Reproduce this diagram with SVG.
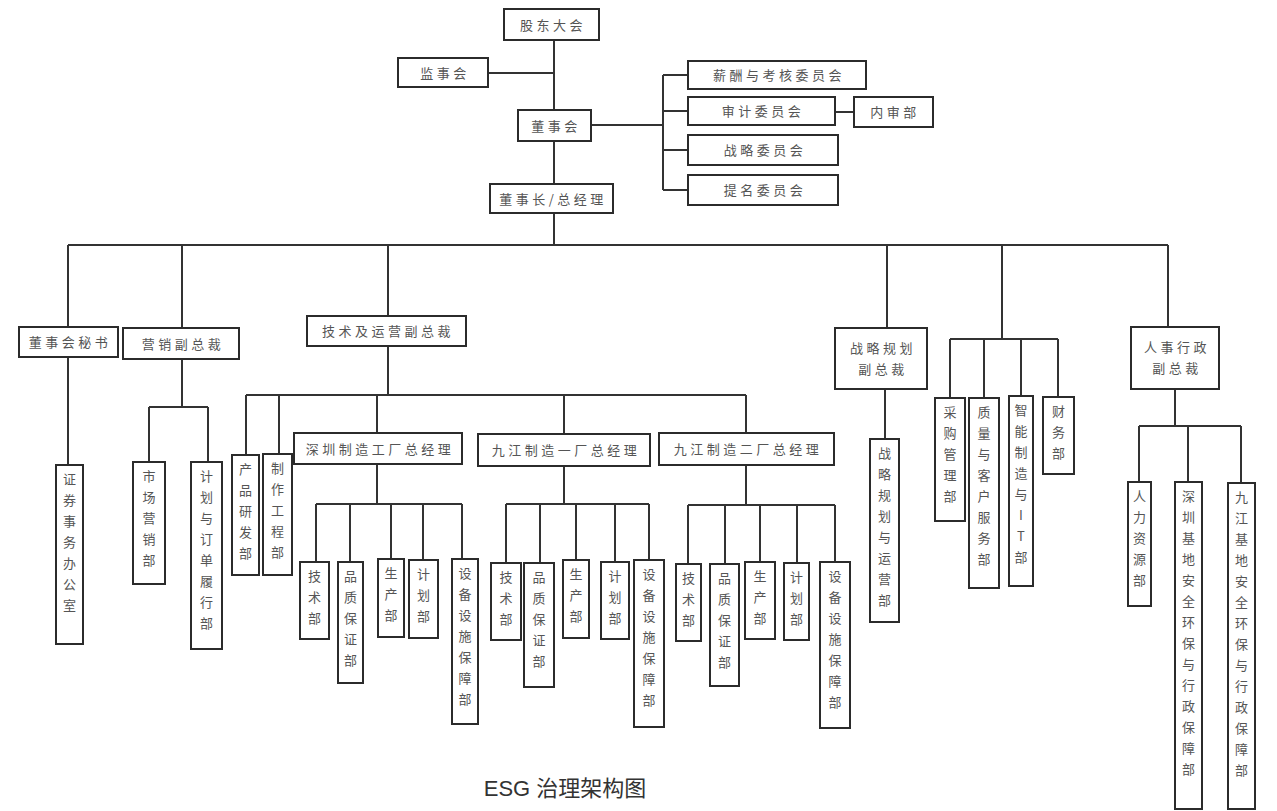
<svg xmlns="http://www.w3.org/2000/svg" width="1277" height="811" viewBox="0 0 1277 811">
<style>
.box{fill:#fff;stroke:#2b2b2b;stroke-width:2}
.t{font-family:"Noto Sans CJK SC",sans-serif;font-size:13px;fill:#555;text-anchor:middle;letter-spacing:3.5px}
.v{font-family:"Noto Sans CJK SC",sans-serif;font-size:13px;fill:#555;text-anchor:middle}
.ln{stroke:#333;stroke-width:2;fill:none}
.cap{font-family:"Liberation Sans","Noto Sans CJK SC",sans-serif;font-size:22px;fill:#333;text-anchor:middle}
</style>
<rect width="1277" height="811" fill="#fff"/>
<g id="connectors" class="ln">
<path d="M554 41V110M554 141V184M554 213V245M488 73H554"/>
<path d="M591 125H663M663 75V190M663 75H688M663 111H688M663 150H688M663 190H688M835 112H854"/>
<path d="M68 245H1168M68 245V327M182 245V328M388 245V316M887 245V328M1002 245V339M1168 245V327"/>
<path d="M68 357V465"/>
<path d="M182 359V407M149 407H208M149 407V462M208 407V462"/>
<path d="M388 346V395M246 395H746M246 395V455M279 395V454M377 395V433M564 395V434M746 395V433"/>
<path d="M377 464V504M316 504H462M316 504V562M350 504V562M391 504V559M423 504V560M462 504V559"/>
<path d="M564 466V504M506 504H649M506 504V563M540 504V563M576 504V560M615 504V562M649 504V560"/>
<path d="M746 465V505M688 505H835M688 505V564M725 505V564M760 505V562M797 505V563M835 505V562"/>
<path d="M885 389V439"/>
<path d="M950 339H1058M950 339V398M984 339V398M1021 339V396M1058 339V397"/>
<path d="M1175 389V426M1139 426H1241M1139 426V482M1188 426V482M1241 426V483"/>
</g>
<g id="n-gudong"><rect class="box" x="504" y="9" width="95" height="31"/><text class="t" x="553" y="29.5">股东大会</text></g>
<g id="n-jianshi"><rect class="box" x="398" y="58" width="90" height="29"/><text class="t" x="445" y="77.5">监事会</text></g>
<g id="n-dongshihui"><rect class="box" x="518" y="110" width="73" height="31"/><text class="t" x="556" y="130.5">董事会</text></g>
<g id="n-dsz"><rect class="box" x="490" y="184" width="123" height="29"/><text class="t" x="553" y="203.5">董事长/总经理</text></g>
<g id="n-xc"><rect class="box" x="688" y="61" width="178" height="28"/><text class="t" x="779" y="80">薪酬与考核委员会</text></g>
<g id="n-sj"><rect class="box" x="688" y="97" width="147" height="28"/><text class="t" x="763" y="116">审计委员会</text></g>
<g id="n-nsb"><rect class="box" x="854" y="97" width="79" height="30"/><text class="t" x="895" y="117">内审部</text></g>
<g id="n-zl"><rect class="box" x="688" y="135" width="150" height="30"/><text class="t" x="765" y="155">战略委员会</text></g>
<g id="n-tm"><rect class="box" x="688" y="175" width="150" height="30"/><text class="t" x="765" y="195">提名委员会</text></g>
<g id="n-mishu"><rect class="box" x="19" y="327" width="99" height="30"/><text class="t" x="70" y="347">董事会秘书</text></g>
<g id="n-yx"><rect class="box" x="123" y="328" width="116" height="31"/><text class="t" x="183" y="348.5">营销副总裁</text></g>
<g id="n-js"><rect class="box" x="307" y="316" width="159" height="30"/><text class="t" x="388" y="336">技术及运营副总裁</text></g>
<g id="n-zlgh"><rect class="box" x="835" y="328" width="92" height="61"/><text class="t" x="883" y="353">战略规划</text><text class="t" x="883" y="374">副总裁</text></g>
<g id="n-rs"><rect class="box" x="1131" y="327" width="88" height="62"/><text class="t" x="1177" y="352">人事行政</text><text class="t" x="1177" y="373">副总裁</text></g>
<g id="n-sz"><rect class="box" x="294" y="433" width="168" height="31"/><text class="t" x="380" y="453.5">深圳制造工厂总经理</text></g>
<g id="n-jj1"><rect class="box" x="478" y="434" width="172" height="32"/><text class="t" x="566" y="455">九江制造一厂总经理</text></g>
<g id="n-jj2"><rect class="box" x="659" y="433" width="175" height="32"/><text class="t" x="748" y="454">九江制造二厂总经理</text></g>
<g id="n-zq"><rect class="box" x="56" y="465" width="27" height="179"/><text class="v" x="69.5" y="484">证<tspan x="69.5" dy="21">券</tspan><tspan x="69.5" dy="21">事</tspan><tspan x="69.5" dy="21">务</tspan><tspan x="69.5" dy="21">办</tspan><tspan x="69.5" dy="21">公</tspan><tspan x="69.5" dy="21">室</tspan></text></g>
<g id="n-scyx"><rect class="box" x="133" y="462" width="32" height="122"/><text class="v" x="149" y="481">市<tspan x="149" dy="21">场</tspan><tspan x="149" dy="21">营</tspan><tspan x="149" dy="21">销</tspan><tspan x="149" dy="21">部</tspan></text></g>
<g id="n-jhdd"><rect class="box" x="191" y="462" width="31" height="187"/><text class="v" x="206.5" y="481">计<tspan x="206.5" dy="21">划</tspan><tspan x="206.5" dy="21">与</tspan><tspan x="206.5" dy="21">订</tspan><tspan x="206.5" dy="21">单</tspan><tspan x="206.5" dy="21">履</tspan><tspan x="206.5" dy="21">行</tspan><tspan x="206.5" dy="21">部</tspan></text></g>
<g id="n-cpyf"><rect class="box" x="232" y="455" width="27" height="120"/><text class="v" x="245.5" y="474">产<tspan x="245.5" dy="21">品</tspan><tspan x="245.5" dy="21">研</tspan><tspan x="245.5" dy="21">发</tspan><tspan x="245.5" dy="21">部</tspan></text></g>
<g id="n-zzgc"><rect class="box" x="263" y="454" width="29" height="121"/><text class="v" x="277.5" y="473">制<tspan x="277.5" dy="21">作</tspan><tspan x="277.5" dy="21">工</tspan><tspan x="277.5" dy="21">程</tspan><tspan x="277.5" dy="21">部</tspan></text></g>
<g id="n-sz-js"><rect class="box" x="300" y="562" width="29" height="77"/><text class="v" x="314.5" y="581">技<tspan x="314.5" dy="21">术</tspan><tspan x="314.5" dy="21">部</tspan></text></g>
<g id="n-sz-pz"><rect class="box" x="338" y="562" width="25" height="121"/><text class="v" x="350.5" y="581">品<tspan x="350.5" dy="21">质</tspan><tspan x="350.5" dy="21">保</tspan><tspan x="350.5" dy="21">证</tspan><tspan x="350.5" dy="21">部</tspan></text></g>
<g id="n-sz-sc"><rect class="box" x="378" y="559" width="26" height="78"/><text class="v" x="391" y="578">生<tspan x="391" dy="21">产</tspan><tspan x="391" dy="21">部</tspan></text></g>
<g id="n-sz-jh"><rect class="box" x="409" y="560" width="29" height="78"/><text class="v" x="423.5" y="579">计<tspan x="423.5" dy="21">划</tspan><tspan x="423.5" dy="21">部</tspan></text></g>
<g id="n-sz-sb"><rect class="box" x="452" y="559" width="26" height="165"/><text class="v" x="465" y="578">设<tspan x="465" dy="21">备</tspan><tspan x="465" dy="21">设</tspan><tspan x="465" dy="21">施</tspan><tspan x="465" dy="21">保</tspan><tspan x="465" dy="21">障</tspan><tspan x="465" dy="21">部</tspan></text></g>
<g id="n-jj1-js"><rect class="box" x="491" y="563" width="30" height="77"/><text class="v" x="506" y="582">技<tspan x="506" dy="21">术</tspan><tspan x="506" dy="21">部</tspan></text></g>
<g id="n-jj1-pz"><rect class="box" x="524" y="563" width="30" height="124"/><text class="v" x="539" y="582">品<tspan x="539" dy="21">质</tspan><tspan x="539" dy="21">保</tspan><tspan x="539" dy="21">证</tspan><tspan x="539" dy="21">部</tspan></text></g>
<g id="n-jj1-sc"><rect class="box" x="563" y="560" width="26" height="78"/><text class="v" x="576" y="579">生<tspan x="576" dy="21">产</tspan><tspan x="576" dy="21">部</tspan></text></g>
<g id="n-jj1-jh"><rect class="box" x="601" y="562" width="28" height="77"/><text class="v" x="615" y="581">计<tspan x="615" dy="21">划</tspan><tspan x="615" dy="21">部</tspan></text></g>
<g id="n-jj1-sb"><rect class="box" x="634" y="560" width="30" height="167"/><text class="v" x="649" y="579">设<tspan x="649" dy="21">备</tspan><tspan x="649" dy="21">设</tspan><tspan x="649" dy="21">施</tspan><tspan x="649" dy="21">保</tspan><tspan x="649" dy="21">障</tspan><tspan x="649" dy="21">部</tspan></text></g>
<g id="n-jj2-js"><rect class="box" x="676" y="564" width="25" height="77"/><text class="v" x="688.5" y="583">技<tspan x="688.5" dy="21">术</tspan><tspan x="688.5" dy="21">部</tspan></text></g>
<g id="n-jj2-pz"><rect class="box" x="710" y="564" width="29" height="122"/><text class="v" x="724.5" y="583">品<tspan x="724.5" dy="21">质</tspan><tspan x="724.5" dy="21">保</tspan><tspan x="724.5" dy="21">证</tspan><tspan x="724.5" dy="21">部</tspan></text></g>
<g id="n-jj2-sc"><rect class="box" x="745" y="562" width="30" height="77"/><text class="v" x="760" y="581">生<tspan x="760" dy="21">产</tspan><tspan x="760" dy="21">部</tspan></text></g>
<g id="n-jj2-jh"><rect class="box" x="784" y="563" width="25" height="77"/><text class="v" x="796.5" y="582">计<tspan x="796.5" dy="21">划</tspan><tspan x="796.5" dy="21">部</tspan></text></g>
<g id="n-jj2-sb"><rect class="box" x="820" y="562" width="30" height="166"/><text class="v" x="835" y="581">设<tspan x="835" dy="21">备</tspan><tspan x="835" dy="21">设</tspan><tspan x="835" dy="21">施</tspan><tspan x="835" dy="21">保</tspan><tspan x="835" dy="21">障</tspan><tspan x="835" dy="21">部</tspan></text></g>
<g id="n-zlyy"><rect class="box" x="870" y="439" width="29" height="183"/><text class="v" x="884.5" y="458">战<tspan x="884.5" dy="21">略</tspan><tspan x="884.5" dy="21">规</tspan><tspan x="884.5" dy="21">划</tspan><tspan x="884.5" dy="21">与</tspan><tspan x="884.5" dy="21">运</tspan><tspan x="884.5" dy="21">营</tspan><tspan x="884.5" dy="21">部</tspan></text></g>
<g id="n-cg"><rect class="box" x="935" y="398" width="30" height="123"/><text class="v" x="950" y="417">采<tspan x="950" dy="21">购</tspan><tspan x="950" dy="21">管</tspan><tspan x="950" dy="21">理</tspan><tspan x="950" dy="21">部</tspan></text></g>
<g id="n-zlkh"><rect class="box" x="969" y="398" width="30" height="190"/><text class="v" x="984" y="417">质<tspan x="984" dy="21">量</tspan><tspan x="984" dy="21">与</tspan><tspan x="984" dy="21">客</tspan><tspan x="984" dy="21">户</tspan><tspan x="984" dy="21">服</tspan><tspan x="984" dy="21">务</tspan><tspan x="984" dy="21">部</tspan></text></g>
<g id="n-znzz"><rect class="box" x="1009" y="396" width="24" height="190"/><text class="v" x="1021" y="415">智<tspan x="1021" dy="21">能</tspan><tspan x="1021" dy="21">制</tspan><tspan x="1021" dy="21">造</tspan><tspan x="1021" dy="21">与</tspan><tspan x="1021" dy="21">I</tspan><tspan x="1021" dy="21">T</tspan><tspan x="1021" dy="21">部</tspan></text></g>
<g id="n-cw"><rect class="box" x="1043" y="397" width="31" height="77"/><text class="v" x="1058.5" y="416">财<tspan x="1058.5" dy="21">务</tspan><tspan x="1058.5" dy="21">部</tspan></text></g>
<g id="n-rlzy"><rect class="box" x="1128" y="482" width="23" height="124"/><text class="v" x="1139.5" y="501">人<tspan x="1139.5" dy="21">力</tspan><tspan x="1139.5" dy="21">资</tspan><tspan x="1139.5" dy="21">源</tspan><tspan x="1139.5" dy="21">部</tspan></text></g>
<g id="n-szjd"><rect class="box" x="1175" y="482" width="27" height="327"/><text class="v" x="1188.5" y="501">深<tspan x="1188.5" dy="21">圳</tspan><tspan x="1188.5" dy="21">基</tspan><tspan x="1188.5" dy="21">地</tspan><tspan x="1188.5" dy="21">安</tspan><tspan x="1188.5" dy="21">全</tspan><tspan x="1188.5" dy="21">环</tspan><tspan x="1188.5" dy="21">保</tspan><tspan x="1188.5" dy="21">与</tspan><tspan x="1188.5" dy="21">行</tspan><tspan x="1188.5" dy="21">政</tspan><tspan x="1188.5" dy="21">保</tspan><tspan x="1188.5" dy="21">障</tspan><tspan x="1188.5" dy="21">部</tspan></text></g>
<g id="n-jjjd"><rect class="box" x="1228" y="483" width="27" height="326"/><text class="v" x="1241.5" y="502">九<tspan x="1241.5" dy="21">江</tspan><tspan x="1241.5" dy="21">基</tspan><tspan x="1241.5" dy="21">地</tspan><tspan x="1241.5" dy="21">安</tspan><tspan x="1241.5" dy="21">全</tspan><tspan x="1241.5" dy="21">环</tspan><tspan x="1241.5" dy="21">保</tspan><tspan x="1241.5" dy="21">与</tspan><tspan x="1241.5" dy="21">行</tspan><tspan x="1241.5" dy="21">政</tspan><tspan x="1241.5" dy="21">保</tspan><tspan x="1241.5" dy="21">障</tspan><tspan x="1241.5" dy="21">部</tspan></text></g>
<text class="cap" x="565" y="796">ESG 治理架构图</text>
</svg>
